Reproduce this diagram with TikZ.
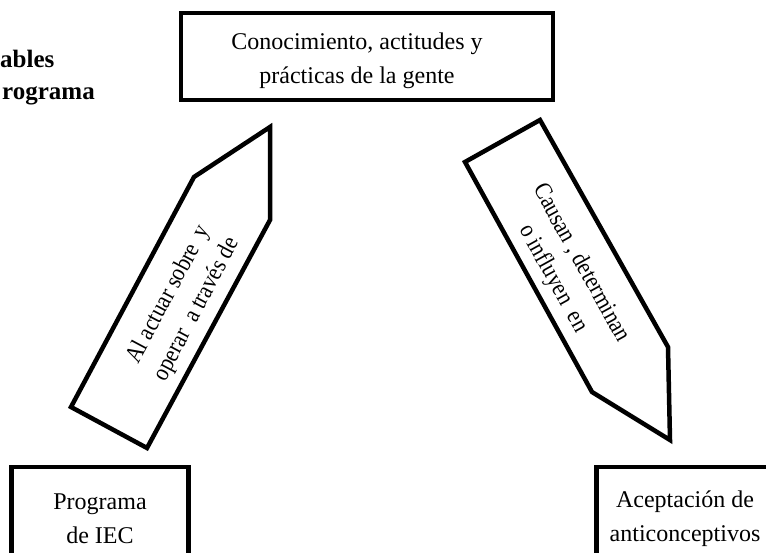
\documentclass[tikz,border=0pt]{standalone}
\usepackage{fontspec}
\setmainfont{Liberation Serif}
\newfontfamily\narrowserif[FakeStretch=0.88]{Liberation Serif}
\usetikzlibrary{positioning}

\begin{document}
\begin{tikzpicture}[x=1pt,y=-1pt]
\useasboundingbox (0,0) rectangle (766,553);
\clip (0,0) rectangle (766,553);
% Width of the lower boxes
\newdimen\Boxw
\Boxw=177pt
\tikzset{box/.style={draw,line width=4.5pt,minimum width=\Boxw,minimum height=140pt},
        boxtext/.style={align=center,inner sep=0pt,font=\fontsize{24}{34}\selectfont},
        pencil/.style={draw,line width=4.5pt,line join=miter},
        penciltext/.style={align=center,inner sep=0pt,font=\narrowserif\fontsize{24.5}{32}\selectfont},
        vartext/.style={anchor=base west,inner sep=0pt,font=\bfseries\fontsize{25}{32}\selectfont}}
        \node[vartext] (var1) at (0,68) {ables};
        \node[vartext] (var2) at (2,100) {rograma};
        \node[box,minimum width=372pt,minimum height=87pt] (gente) at (367,56.5) {};
        \node[boxtext] (gente-t) at ([xshift=-10pt,yshift=-4.7pt]gente.center) {Conocimiento, actitudes y\\prácticas de la gente};
        \foreach \n/\x/\t in {iec/100/{Programa\\de IEC},acep/685/{Aceptación de\\anticonceptivos}} {
                \node[box] (\n) at (\x,537) {};
                \node[boxtext] (\n-t) at (\x,519) {\t};
		}
        % the two pencil shaped arrows
        \draw[pencil] (270,127) -- (270,220) -- (147,448) -- (71,407) -- (194,177) -- cycle;
        \draw[pencil] (540,120) -- (668,347) -- (670,440) -- (592,392) -- (465,162) -- cycle;
        \node[penciltext,rotate=62] (actuar) at (183,302) {Al actuar sobre\ \ y\\operar\ \ a través de};
        \node[penciltext,rotate=-61] (causan) at (567,271) {Causan , determinan\\o influyen\ \ en};
\end{tikzpicture}
\end{document}
